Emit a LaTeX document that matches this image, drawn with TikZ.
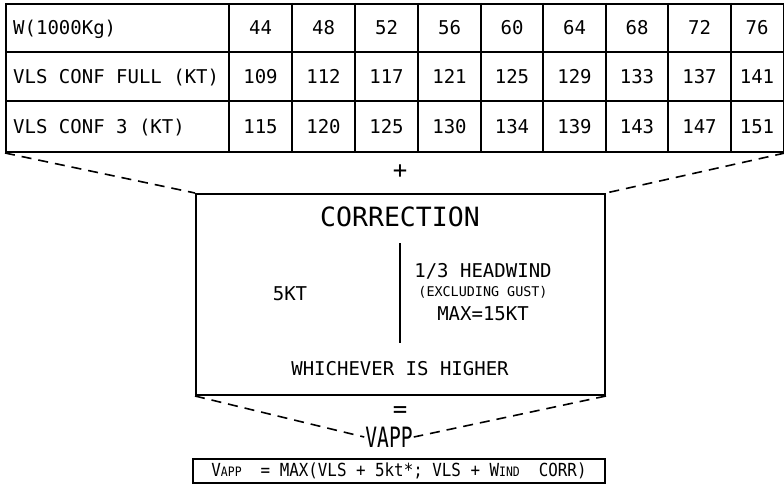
\documentclass[tikz,border=0pt]{standalone}
\usepackage{fontspec}
\usepackage{graphicx}
\setmainfont{DejaVu Sans Mono}
\tikzset{
  cell/.style={font=\fontsize{19}{19}\selectfont, inner sep=0pt, text height=14pt, text depth=0pt},
  grid/.style={line width=2pt},
  lead/.style={line width=1.6pt, dash pattern=on 10pt off 7pt},
}
\begin{document}
\begin{tikzpicture}[x=1pt, y=-1pt]
\useasboundingbox (0,0) rectangle (784,495);
% table of VLS
\node[grid, draw, minimum width=778pt, minimum height=148pt, inner sep=0pt, anchor=north west] (vlstab) at (5,3) {};
\draw[grid] (5,52) -- (783,52);
\draw[grid] (5,101) -- (783,101);
\foreach \cx in {229, 292, 355, 418, 481, 543, 606, 668, 731}
  \draw[grid] (\cx,3) -- (\cx,151);
\node[cell, anchor=west] (wlab) at (13,28) {W(1000Kg)};
\node[cell, anchor=west] (fulllab) at (13,77) {VLS CONF FULL (KT)};
\node[cell, anchor=west] (conflab) at (13,126) {VLS CONF 3 (KT)};
\node[cell] (w1) at (260.5,28) {44};  \node[cell] (f1) at (260.5,77) {109}; \node[cell] (c1) at (260.5,126) {115};
\node[cell] (w2) at (323.5,28) {48};  \node[cell] (f2) at (323.5,77) {112}; \node[cell] (c2) at (323.5,126) {120};
\node[cell] (w3) at (386.5,28) {52};  \node[cell] (f3) at (386.5,77) {117}; \node[cell] (c3) at (386.5,126) {125};
\node[cell] (w4) at (449.5,28) {56};  \node[cell] (f4) at (449.5,77) {121}; \node[cell] (c4) at (449.5,126) {130};
\node[cell] (w5) at (512,28) {60};    \node[cell] (f5) at (512,77) {125};   \node[cell] (c5) at (512,126) {134};
\node[cell] (w6) at (574.5,28) {64};  \node[cell] (f6) at (574.5,77) {129}; \node[cell] (c6) at (574.5,126) {139};
\node[cell] (w7) at (637,28) {68};    \node[cell] (f7) at (637,77) {133};   \node[cell] (c7) at (637,126) {143};
\node[cell] (w8) at (699.5,28) {72};  \node[cell] (f8) at (699.5,77) {137}; \node[cell] (c8) at (699.5,126) {147};
\node[cell] (w9) at (757,28) {76};    \node[cell] (f9) at (757,77) {141};   \node[cell] (c9) at (757,126) {151};
% correction box
\node[font=\fontsize{24}{24}\selectfont, inner sep=0pt] (plus) at (400,172) {+};
\node[grid, draw, minimum width=409pt, minimum height=201pt, inner sep=0pt, anchor=north west] (corrbox) at (195,193) {};
\node[font=\fontsize{26.5}{26.5}\selectfont, inner sep=0pt] (corrtitle) at (400,217) {CORRECTION};
\coordinate (sepa) at (400,243);
\coordinate (sepb) at (400,343);
\draw[grid] (sepa) -- (sepb);
\node[cell] (fivekt) at (290,293) {5KT};
\node[cell] (headwind) at (483,270) {1/3 HEADWIND};
\node[font=\fontsize{13.4}{13.4}\selectfont, inner sep=0pt] (gust) at (483,292) {(EXCLUDING GUST)};
\node[cell] (maxkt) at (483,313) {MAX=15KT};
\node[cell] (higher) at (400,368) {WHICHEVER IS HIGHER};
% result
\node[font=\fontsize{24}{24}\selectfont, inner sep=0pt] (equal) at (400,412) {=};
\node[inner sep=1pt] (vapp) at (389,437) {\scalebox{0.7}[1]{\fontsize{28}{28}\selectfont VAPP}};
\node[grid, draw, minimum width=412pt, minimum height=24pt, inner sep=0pt] (vappbox) at (399,471)
  {\scalebox{0.88}[1]{\fontsize{18}{18}\selectfont V{\fontsize{13}{13}\selectfont APP} \ = MAX(VLS + 5kt*; VLS + W{\fontsize{13}{13}\selectfont IND} \ CORR)}};
% dashed leaders
\draw[lead] (vlstab.south west) -- (corrbox.north west);
\draw[lead] (vlstab.south east) -- (corrbox.north east);
\draw[lead] (corrbox.south west) -- (vapp.west);
\draw[lead] (corrbox.south east) -- (vapp.east);
\end{tikzpicture}
\end{document}
